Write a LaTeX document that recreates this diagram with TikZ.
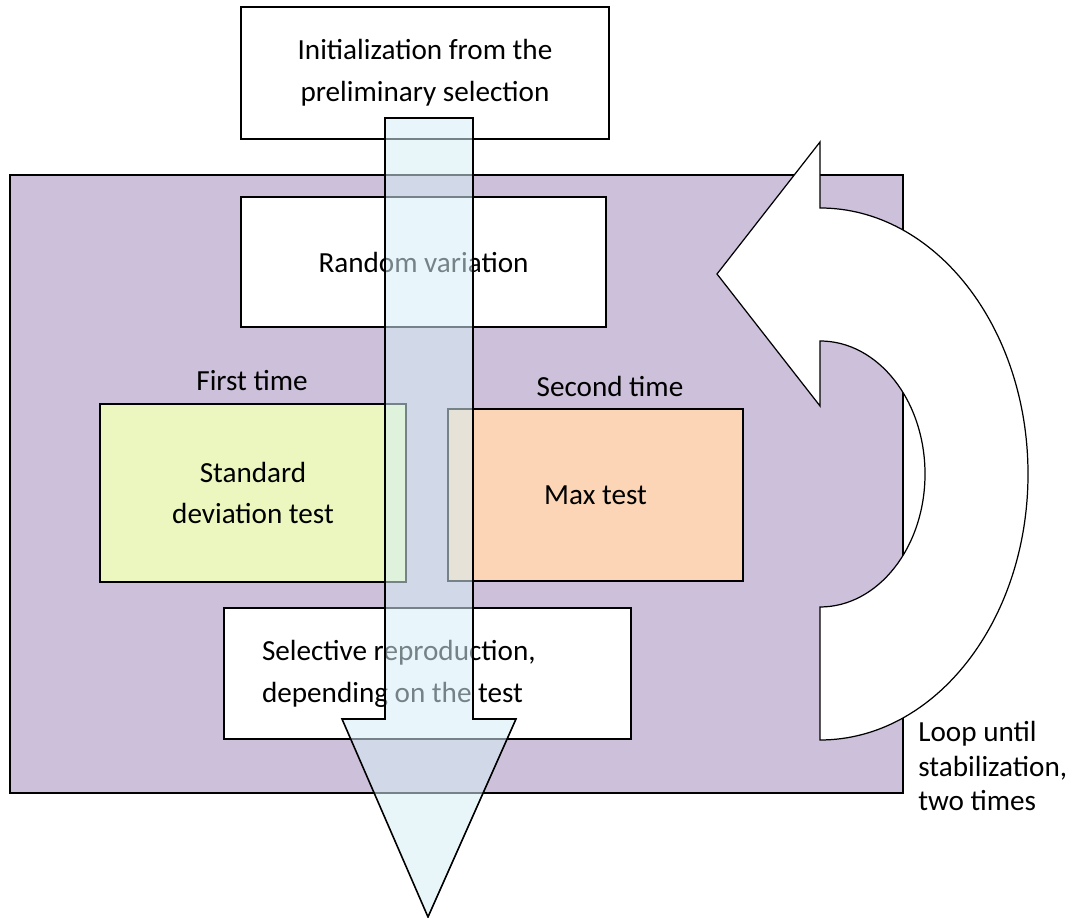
\documentclass[tikz,border=0pt]{standalone}
\usepackage{fontspec}
\setmainfont{Carlito}
\usepackage{tikz}
\usetikzlibrary{positioning}

\definecolor{lavender}{RGB}{204,192,218}
\definecolor{stdgreen}{RGB}{235,247,190}
\definecolor{maxpeach}{RGB}{251,213,181}
\definecolor{shaftblue}{RGB}{214,238,246}

\begin{document}
\begin{tikzpicture}[
  x=0.02cm, y=0.02cm,
  font=\fontsize{16.6}{23.8}\selectfont,
  stepbox/.style={draw,line width=0.9pt,align=center,inner sep=2pt},
  caption/.style={align=left,inner sep=0pt}
]
\useasboundingbox (0,0) rectangle (1078,918);
% background panel
\filldraw[fill=lavender,line width=0.9pt] (10,125) rectangle (903,743);

\node[stepbox,fill=white,minimum width=7.36cm,minimum height=2.64cm] (init) at (425,845) {Initialization from the\\preliminary selection};
\node[stepbox,fill=white,minimum width=7.30cm,minimum height=2.60cm] (random) at (423.5,656) {Random variation};
\node[stepbox,fill=stdgreen,minimum width=6.12cm,minimum height=3.56cm] (std) at (253,425) {Standard\\deviation test};
\node[stepbox,fill=maxpeach,minimum width=5.90cm,minimum height=3.44cm] (max) at (595.5,423) {Max test};
\node[stepbox,fill=white,align=flush left,text width=6.62cm,inner xsep=0.76cm,minimum height=2.62cm] (select) at (427.5,244.5) {Selective reproduction,\\depending on the test};

\node[caption] (first) at (252,537) {First time};
\node[caption] (second) at (610,532) {Second time};

% main flow arrow
\filldraw[fill=shaftblue,fill opacity=0.55,line width=0.9pt]
  (385,800) -- (473,800) -- (473,199) -- (516,199) -- (428,1) -- (342,199) -- (385,199) -- cycle;

% loop arrow
\filldraw[fill=white,line width=0.7pt]
  (820,710) arc[start angle=90,end angle=-90,x radius=208,y radius=266]
  -- (820,311) arc[start angle=-90,end angle=90,x radius=105,y radius=133]
  -- (820,512) -- (717,644) -- (820,776) -- cycle;

\node[caption,anchor=west,font=\fontsize{16.6}{19.5}\selectfont] (loop) at (918,152) {Loop until\\stabilization,\\two times};
\end{tikzpicture}
\end{document}
